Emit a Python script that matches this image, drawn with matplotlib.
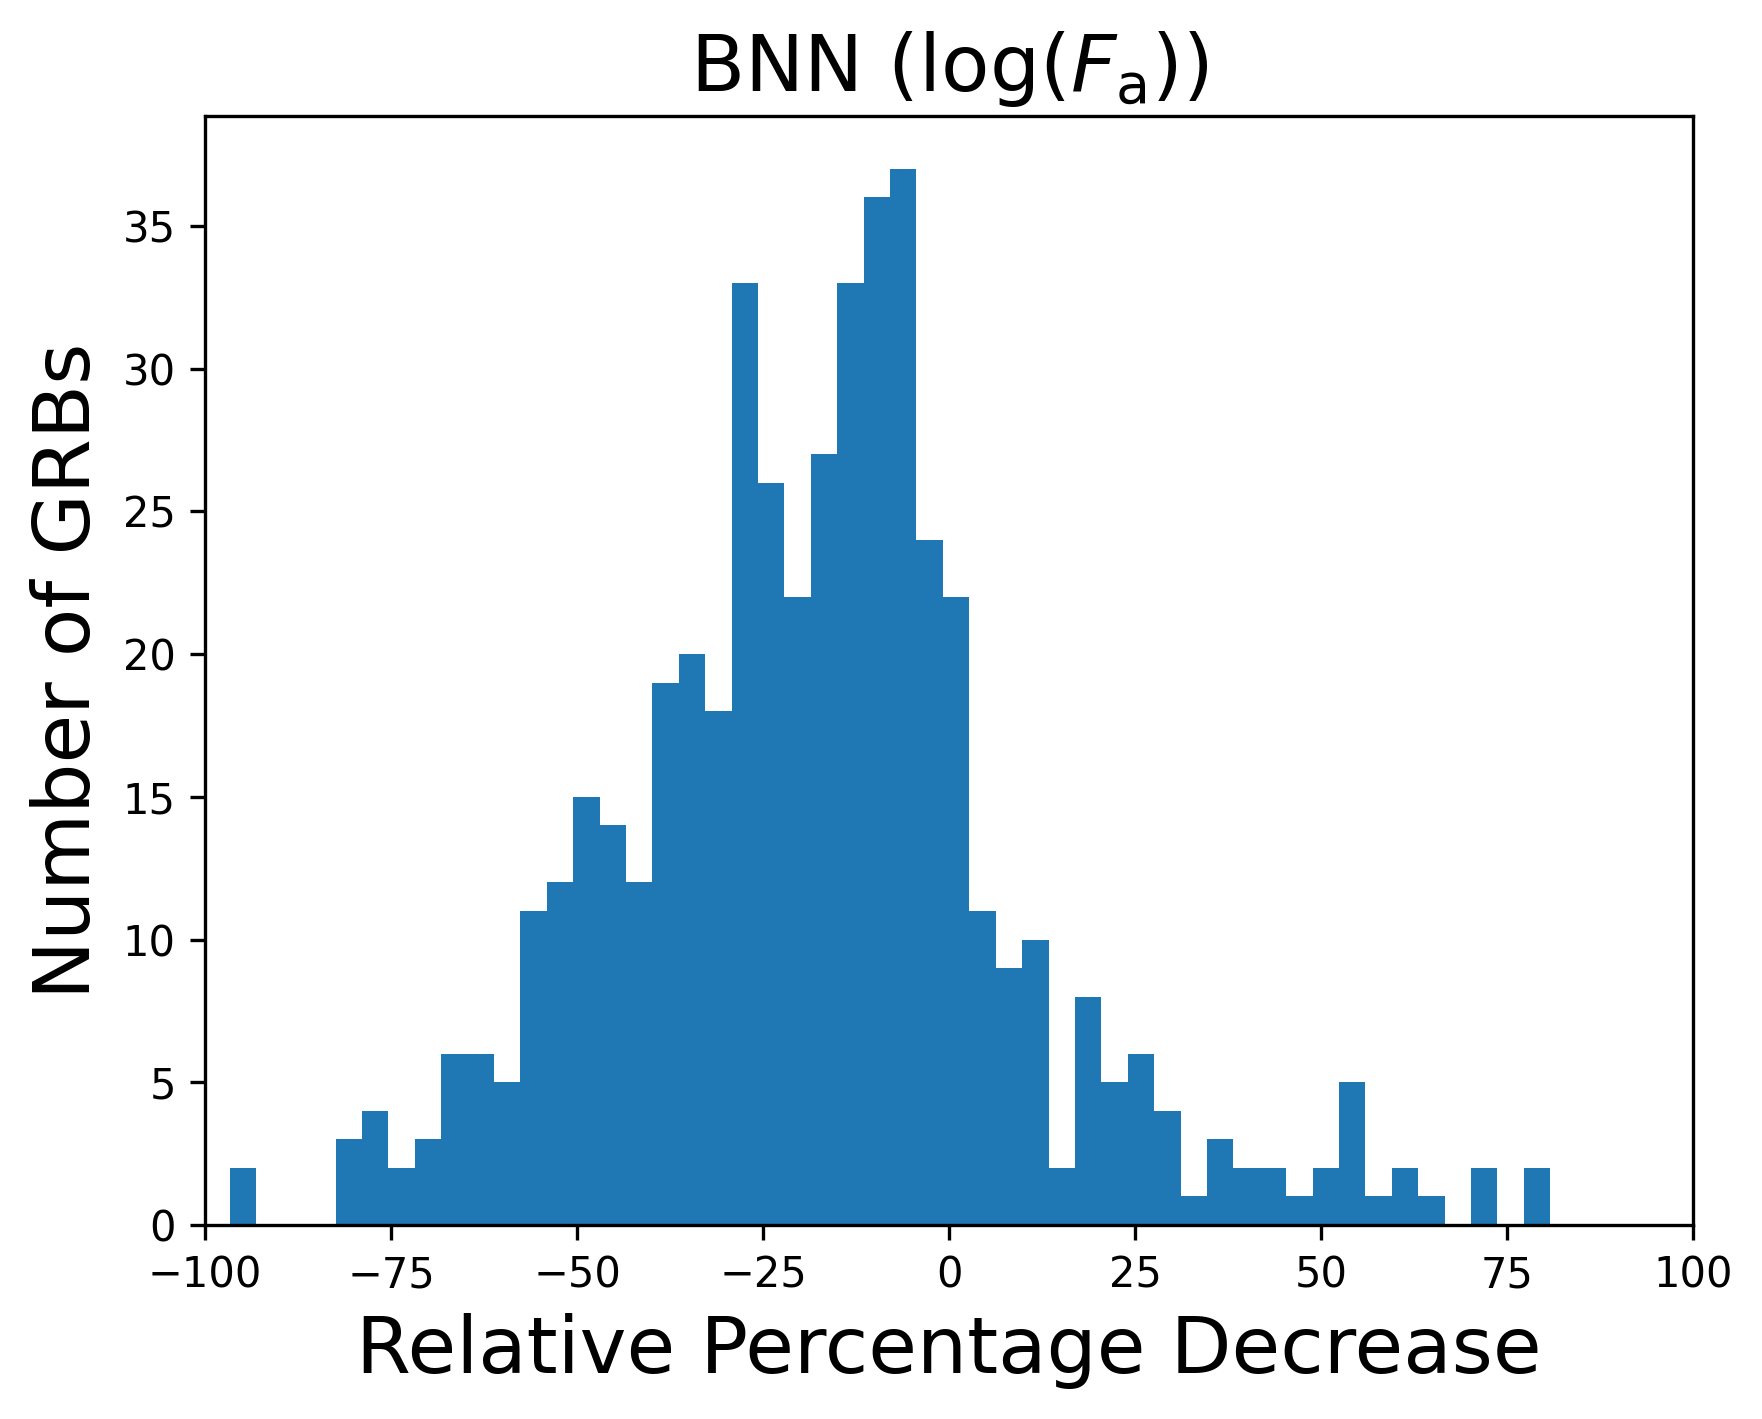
import numpy as np
import matplotlib
matplotlib.use('Agg')
import matplotlib.pyplot as plt

# histogram bin edges (50 bins) and counts
bin_lo = -96.64
bin_hi = 80.78
n_bins = 50
counts = [2, 0, 0, 0, 3, 4, 2, 3, 6, 6,
          5, 11, 12, 15, 14, 12, 19, 20, 18, 33,
          26, 22, 27, 33, 36, 37, 24, 22, 11, 9,
          10, 2, 8, 5, 6, 4, 1, 3, 2, 2,
          1, 2, 5, 1, 2, 1, 0, 2, 0, 2]

edges = np.linspace(bin_lo, bin_hi, n_bins + 1)
centers = 0.5 * (edges[:-1] + edges[1:])

fig = plt.figure(figsize=(1762 / 300, 1419 / 300), dpi=300)
ax = fig.add_axes([0.1163, 0.1367, 0.961 - 0.1163, 0.9183 - 0.1367])

ax.hist(centers, bins=edges, weights=counts, color='#1f77b4')
ax.set_xlim(-100, 100)
ax.set_xlabel('Relative Percentage Decrease', fontsize=19)
ax.set_ylabel('Number of GRBs', fontsize=19)
ax.set_title(r'BNN (log($F_\mathrm{a}$))', fontsize=19)

fig.savefig('out.png', dpi=300)
